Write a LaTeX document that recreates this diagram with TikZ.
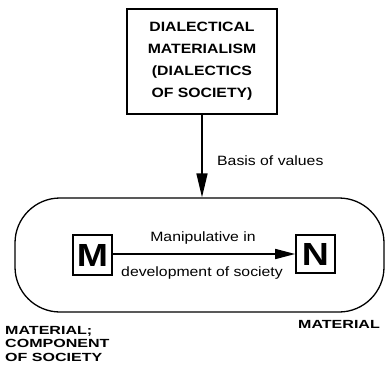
\documentclass[tikz,border=0pt]{standalone}
\usepackage{fontspec}
\usetikzlibrary{arrows.meta}
\newfontfamily\labfont[FakeStretch=1.17]{Liberation Sans}
\newfontfamily\widefont[FakeStretch=1.36]{Liberation Sans}
\begin{document}
\begin{tikzpicture}[x=1pt,y=-1pt,
  box/.style={draw,line width=1.6pt,inner sep=0pt},
  conn/.style={line width=1.6pt,-{Triangle[length=24pt,width=11pt]}},
  hconn/.style={line width=1.6pt,-{Triangle[length=20pt,width=10pt]}},
  txt/.style={inner sep=0pt,font=\labfont\fontsize{13.5}{16}\selectfont},
  btxt/.style={inner sep=0pt,font=\labfont\bfseries\fontsize{13.5}{22}\selectfont,align=center},
  wtxt/.style={inner sep=0pt,font=\widefont\bfseries\fontsize{11.8}{13.5}\selectfont,align=left},
  big/.style={font=\labfont\bfseries\fontsize{32}{32}\selectfont}]
\useasboundingbox (0,0) rectangle (387,367);
\node[box,minimum width=150pt,minimum height=105pt,btxt] (top) at (202,61.5)
  {DIALECTICAL\\MATERIALISM\\(DIALECTICS\\OF SOCIETY)};
\node[draw,line width=1.3pt,rounded corners=45pt,minimum width=369pt,minimum height=114pt,inner sep=0pt] (st) at (199.5,255) {};
\draw[conn] (top.south) -- (top.south |- st.north);
\node[txt,anchor=west] (basis) at (217,161) {Basis of values};
\node[box,big,minimum width=39pt,minimum height=40pt] (M) at (92.5,255) {M};
\node[box,big,minimum width=39pt,minimum height=38pt] (N) at (315.5,254) {N};
\draw[hconn] (M.east |- 0,254) -- (N.west);
\node[txt] (manip) at (203,238) {Manipulative in};
\node[txt] (dev) at (202,273) {development of society};
\node[wtxt,anchor=north west] (mc) at (5,326) {MATERIAL;\\COMPONENT\\OF SOCIETY};
\node[wtxt] (mat) at (339,324) {MATERIAL};
\end{tikzpicture}
\end{document}
